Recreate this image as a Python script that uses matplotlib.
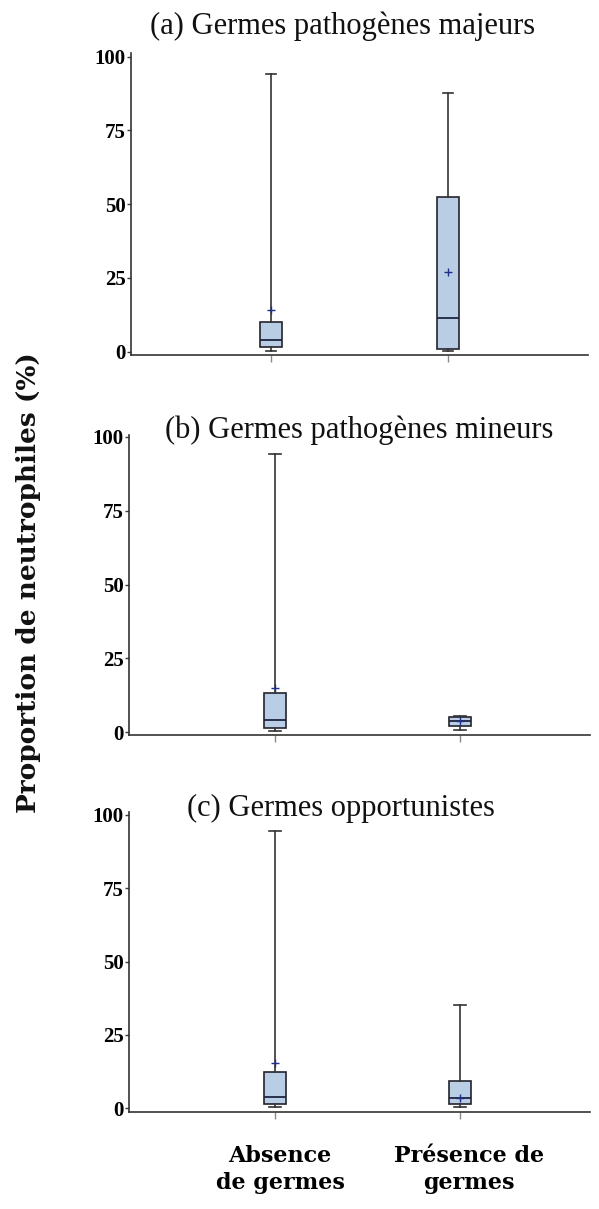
import matplotlib
matplotlib.use("Agg")
import matplotlib.pyplot as plt
from matplotlib.transforms import ScaledTranslation

# ---- data ----
groups = ["Absence\nde germes", "Présence de\ngermes"]
titles = ["(a) Germes pathogènes majeurs",
          "(b) Germes pathogènes mineurs",
          "(c) Germes opportunistes"]
y_ticks = [0, 25, 50, 75, 100]

a_whislo = [0.2, 0.2]
a_q1 = [1.5, 0.9]
a_med = [4.1, 11.5]
a_q3 = [10.1, 52.4]
a_whishi = [94.1, 87.6]
a_mean = [14.1, 26.9]

b_whislo = [0.4, 0.7]
b_q1 = [1.4, 2.2]
b_med = [4.1, 3.8]
b_q3 = [13.4, 5.2]
b_whishi = [94.1, 5.6]
b_mean = [15.1, 3.8]

c_whislo = [0.3, 0.3]
c_q1 = [1.5, 1.5]
c_med = [4.0, 3.4]
c_q3 = [12.5, 9.4]
c_whishi = [94.5, 35.1]
c_mean = [15.3, 3.6]

panels = [
    (a_whislo, a_q1, a_med, a_q3, a_whishi, a_mean),
    (b_whislo, b_q1, b_med, b_q3, b_whishi, b_mean),
    (c_whislo, c_q1, c_med, c_q3, c_whishi, c_mean),
]

W, H = 599, 1209
fig = plt.figure(figsize=(W / 100, H / 100), dpi=100)

# pixel layout: (left, right, top, bottom), xlim, ylim
layout = [
    ((131, 588, 53.3, 355.0), (0.209, 2.791), (-1.12, 101.15)),
    ((129, 590, 435.0, 735.0), (0.211, 2.703), (-0.91, 100.6)),
    ((129, 590, 811.7, 1111.7), (0.211, 2.703), (-1.16, 101.1)),
]

box_fill = "#b9cde5"
edge = "#23232e"
line_col = "#333333"
mean_col = "#1f2f8a"
tick_font = dict(family="Liberation Serif", weight="bold", size=15)

for i, (stats, (px, xl, yl)) in enumerate(zip(panels, layout)):
    l, r, t, b = px
    ax = fig.add_axes([l / W, 1 - b / H, (r - l) / W, (b - t) / H])
    whislo, q1, med, q3, whishi, mean = stats
    bstats = []
    for k in range(len(groups)):
        bstats.append(dict(whislo=whislo[k], q1=q1[k], med=med[k], q3=q3[k],
                           whishi=whishi[k], mean=mean[k], fliers=[],
                           label=groups[k]))
    ax.bxp(bstats, positions=[1, 2], widths=0.12, patch_artist=True,
           showmeans=True, showfliers=False,
           boxprops=dict(facecolor=box_fill, edgecolor=edge, linewidth=1.2),
           medianprops=dict(color="#1c2440", linewidth=1.3),
           whiskerprops=dict(color=line_col, linewidth=1.2),
           capprops=dict(color=line_col, linewidth=1.2),
           capwidths=0.06,
           meanprops=dict(marker="+", markeredgecolor=mean_col,
                          markerfacecolor=mean_col, markersize=6,
                          markeredgewidth=1.0))
    ax.set_xlim(*xl)
    ax.set_ylim(*yl)
    ax.set_yticks(y_ticks)
    ax.set_yticklabels([str(v) for v in y_ticks], fontdict=tick_font)
    for s in ["top", "right"]:
        ax.spines[s].set_visible(False)
    for s in ["left", "bottom"]:
        ax.spines[s].set_color("#333333")
        ax.spines[s].set_linewidth(1.2)
    ax.tick_params(axis="y", length=3, width=1, color="#3c3c3c", pad=1)
    ax.tick_params(axis="x", length=5, width=1, color="#8a8a8a")
    ax.set_xticks([1, 2])
    if i == 2:
        ax.set_xticklabels(groups, family="DejaVu Serif", weight="bold",
                           size=16, linespacing=1.3)
        ax.tick_params(axis="x", pad=19)
        for lab, dx in zip(ax.get_xticklabels(), [5, 9]):
            lab.set_transform(lab.get_transform()
                              + ScaledTranslation(dx / 100, 0, fig.dpi_scale_trans))
    else:
        ax.set_xticklabels(["", ""])
    ax.patch.set_alpha(0)

# titles
title_pos = [(343, 26), (359, 430), (341, 808)]
for txt, (x, y) in zip(titles, title_pos):
    fig.text(x / W, 1 - y / H, txt, ha="center", va="center",
             family="Liberation Serif", size=22, color="#111111")

# y label
fig.text(29 / W, 1 - 583 / H, "Proportion de neutrophiles (%)",
         rotation=90, ha="center", va="center",
         family="DejaVu Serif", weight="bold", size=19, color="#111111")

fig.savefig("out.png", dpi=100, facecolor="white")
